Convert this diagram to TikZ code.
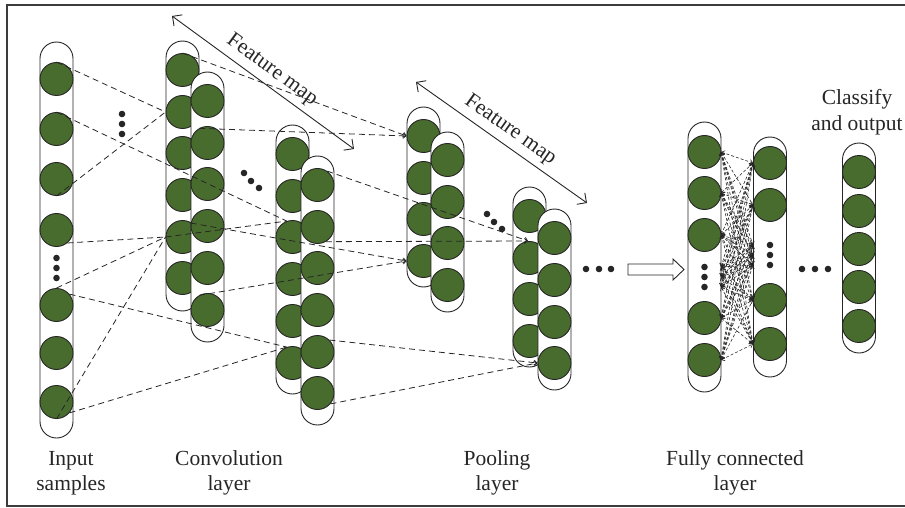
\documentclass[tikz,border=0pt]{standalone}
\usepackage{fontspec}
\setmainfont{Liberation Serif}
\usetikzlibrary{arrows.meta}

\definecolor{leaf}{RGB}{72,108,46}
\definecolor{ink}{RGB}{38,38,38}

\tikzset{
	neuron/.style={circle, draw=ink, fill=leaf, line width=0.9pt, minimum size=33pt, inner sep=0pt},
	capsule/.style={draw=ink, fill=white, line width=0.9pt, rounded corners=16.5pt},
	link/.style={draw=ink, line width=0.8pt, dash pattern=on 6pt off 4pt},
	fclink/.style={draw=ink, line width=0.6pt, dash pattern=on 3pt off 2pt},
	layername/.style={align=center, text=ink, font=\fontsize{21.5}{25.5}\selectfont},
	barb/.tip={Straight Barb[length=7pt, width=14pt]},
	tinybarb/.tip={Straight Barb[length=3pt, width=5pt]},
}

% one capsule with its circles: name, x, top, bottom, circle centres
\newcommand{\stackcol}[5]{%
	\draw[capsule] (#2-16.5,#3) rectangle (#2+16.5,#4);
	\foreach \cy [count=\i] in {#5} \node[neuron] (#1\i) at (#2,\cy) {};
}

\begin{document}
\begin{tikzpicture}[x=1pt, y=-1pt]
		\useasboundingbox (0,0) rectangle (905,508);
		
		%frame
		\draw[ink!90, line width=1.2pt] (915,5) -- (7,5) -- (7,506) -- (915,506);
		
		%input samples
		\stackcol{in}{56.5}{42}{438}{79,129,179,230,305,353,402}
		
		%convolution layer
		\stackcol{ca}{182.5}{41}{311}{70,112,153,195,237,278}
		\stackcol{cb}{207.5}{72}{342}{101,143,184,226,268,310}
		\stackcol{cc}{292.5}{125}{394}{154,196,237,279,321,363}
		\stackcol{cd}{317.5}{156}{425}{185,227,268,310,352,393}
		
		%pooling layer
		\stackcol{pa}{423.5}{107}{287}{136,178,219,261}
		\stackcol{pb}{447.5}{132}{312}{160,202,243,285}
		\stackcol{pc}{529.5}{187}{367}{216,258,299,341}
		\stackcol{pd}{554.5}{209}{390}{238,280,322,363}
		
		%fully connected layer and output
		\stackcol{fa}{704.5}{122}{392}{152,193,235,318,360}
		\stackcol{fb}{770}{137}{377}{163,205,300,344}
		\stackcol{out}{859}{143}{353}{172,211,249,287,326}
		
		%input -> convolution
		\draw[link] (in1.north) -- (ca2.west);
		\draw[link] (in3.south) -- (ca2.west);
		\draw[link] (in2.north) -- (cc3.110);
		\draw[link] (in4.-50) -- (ca5.west);
		\draw[link] (in5.north) -- (ca5.west);
		\draw[link] (in7.south) -- (ca5.west);
		\draw[link] (ca5.west) -- (cc3.110);
		\draw[link] (in5.40) -- (cc6.110);
		\draw[link] (in7.-40) -- (cc6.110);
		
		%convolution -> pooling
		\coordinate (poolin) at (528,241);
		\draw[link, -tinybarb] (ca1.north) -- (pa1.west);
		\draw[link, -tinybarb] (cb2.120) -- (pa1.west);
		\draw[link, -tinybarb] (cb4.170) -- (pa4.west);
		\draw[link, -tinybarb] (cb6.120) -- (pa4.west);
		\draw[link, -tinybarb] (cd1.55) -- (poolin);
		\draw[link, -tinybarb] (cd2.-60) -- (poolin);
		\draw[link, -tinybarb] (cd5.45) -- (pd4.west);
		\draw[link, -tinybarb] (cd6.-40) -- (pd4.west);
		
		%fully connected links
		\foreach \yl [count=\i] in {152,193,235,267,277,287,318,360}
			\coordinate (fl\i) at (721,\yl);
		\foreach \yr [count=\j] in {163,205,245,255,265,300,344}
			\coordinate (fr\j) at (753,\yr);
		\foreach \i in {1,...,8}
			\foreach \j in {1,...,7}
				\draw[fclink, tinybarb-tinybarb] (fl\i) -- (fr\j);
		
		%dots
		\foreach \p in {(56.5,258),(56.5,268),(56.5,278),(122,114),(122,124),(122,134),
			(244,173),(251,181),(259,188),(487,214),(494,222),(502,229),
			(586,269),(599,269),(611,269),(704.5,267),(704.5,277),(704.5,287),
			(770,245),(770,255),(770,265),(802,269),(815,269),(828,269)}
			\fill[ink] \p circle (3.3pt);
		
		%hollow arrow
		\draw[ink, line width=0.9pt, fill=white] (628,264) -- (673,264) -- (673,259) -- (684,269.5) -- (673,280) -- (673,275) -- (628,275) -- cycle;
		
		%feature maps
		\coordinate (fmA) at (172,16);
		\coordinate (fmB) at (354,149);
		\coordinate (fmC) at (416,82);
		\coordinate (fmD) at (587,203);
		\draw[ink, line width=0.9pt, barb-barb] (fmA) -- (fmB) node[midway, above=2pt, sloped, layername] {Feature map};
		\draw[ink, line width=0.9pt, barb-barb] (fmC) -- (fmD) node[midway, above=2pt, sloped, layername] {Feature map};
		
		%layer names
		\node[layername] (nameIn) at (71,473) {Input\\samples};
		\node[layername] (nameConv) at (229,473) {Convolution\\layer};
		\node[layername] (namePool) at (497,473) {Pooling\\layer};
		\node[layername] (nameFc) at (735,473) {Fully connected\\layer};
		\node[layername] (nameOut) at (857,112) {Classify\\and output};

	\end{tikzpicture}
\end{document}
